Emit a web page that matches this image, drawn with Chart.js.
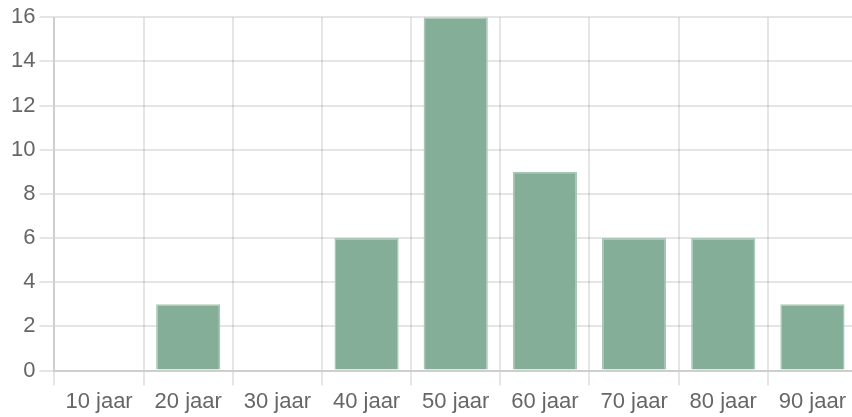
<!DOCTYPE html>
<html>
<head>
<meta charset="utf-8">
<script src="https://cdn.jsdelivr.net/npm/chart.js@4/dist/chart.umd.min.js"></script>
<style>
  html, body { margin: 0; padding: 0; background: #fff; overflow: hidden; }
  #wrap { width: 857px; height: 418px; }
</style>
</head>
<body>
<div id="wrap"><canvas id="chart"></canvas></div>
<script>
// Leeftijdsgroepen en aantallen
const categories = ["10 jaar", "20 jaar", "30 jaar", "40 jaar", "50 jaar", "60 jaar", "70 jaar", "80 jaar", "90 jaar"];
const counts = [0, 3, 0, 6, 16, 9, 6, 6, 3];
const yTicks = [0, 2, 4, 6, 8, 10, 12, 14, 16];

const gridColor = "rgba(0,0,0,0.1)";
const labelFont = { family: "'Liberation Sans', Arial, sans-serif", size: 22 };

new Chart(document.getElementById("chart"), {
  type: "bar",
  data: {
    labels: categories,
    datasets: [{
      data: counts,
      backgroundColor: "#84ae97",
      borderColor: "#a9c7b6",
      borderWidth: 1.5
    }]
  },
  options: {
    responsive: true,
    maintainAspectRatio: false,
    animation: false,
    layout: { padding: { top: 6, right: 0, left: 7, bottom: 0 } },
    plugins: {
      legend: { display: false },
      tooltip: { enabled: false }
    },
    scales: {
      x: {
        grid: { color: gridColor, lineWidth: 2, tickLength: 15, offset: true },
        border: { color: gridColor, width: 2 },
        ticks: { color: "#666", font: labelFont, padding: 3, maxRotation: 0 }
      },
      y: {
        min: 0,
        max: yTicks[yTicks.length - 1],
        grid: { color: gridColor, lineWidth: 2, tickLength: 15 },
        border: { color: gridColor, width: 2 },
        ticks: { color: "#666", font: labelFont, stepSize: yTicks[1] - yTicks[0], padding: 4 }
      }
    }
  }
});
</script>
</body>
</html>
